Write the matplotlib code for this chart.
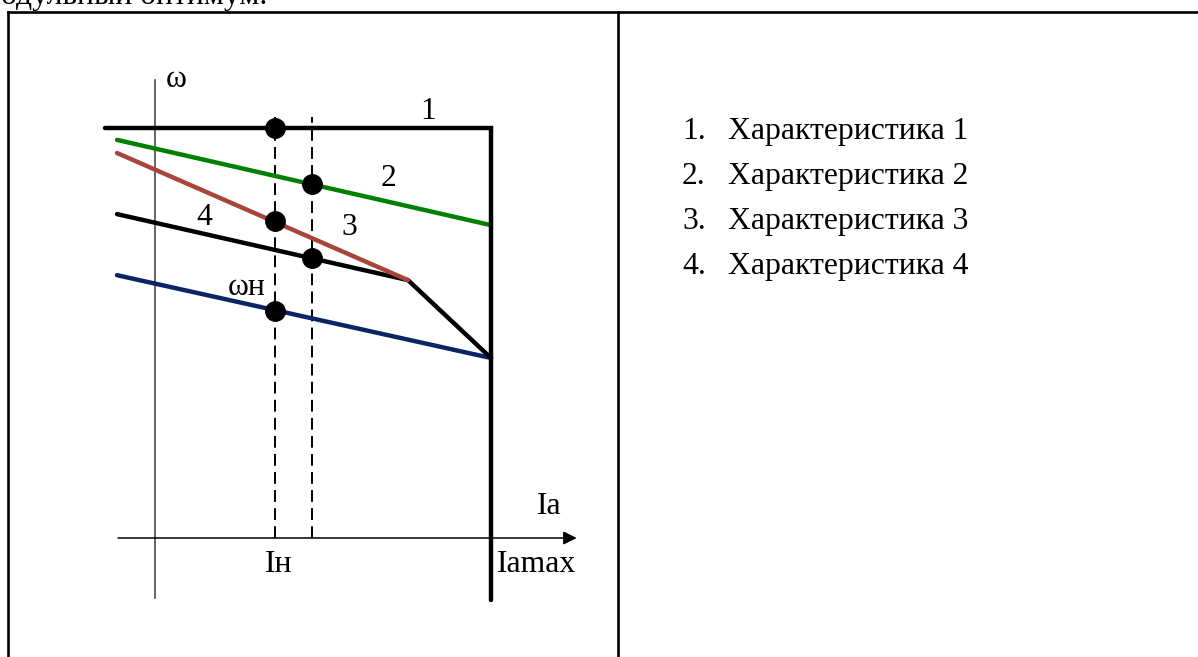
import matplotlib
matplotlib.use("Agg")
import matplotlib.pyplot as plt

plt.rcParams['font.family'] = ['Liberation Serif', 'DejaVu Serif']
plt.rcParams['lines.scale_dashes'] = False

# ---- data (relative units: I / Iamax, omega / omega0) ----
I_start = -0.113
I_break = 0.753
I_n = 0.357
I_2 = 0.467
I_max = 1.0

char1_I = [-0.149, 1.0, 1.0]
char1_w = [1.0, 1.0, -0.151]
char2_I = [I_start, I_max]
char2_w = [0.971, 0.763]
char4_I = [I_start, I_break]
char4_w = [0.939, 0.629]
char3_I = [I_start, I_break, I_max]
char3_w = [0.790, 0.629, 0.439]
blue_I = [I_start, I_max]
blue_w = [0.641, 0.439]

dots_I = [I_n, I_2, I_n, I_2, I_n]
dots_w = [1.0, 0.863, 0.772, 0.683, 0.553]

dash_I = [I_n, I_2]
dash_top = 1.027

list_items = ["Характеристика 1", "Характеристика 2", "Характеристика 3", "Характеристика 4"]

# ---- figure ----
W, H = 1198, 657
fig = plt.figure(figsize=(W / 100, H / 100), dpi=100)

# background / table layer in pixel coordinates
bg = fig.add_axes([0, 0, 1, 1])
bg.set_xlim(0, W)
bg.set_ylim(H, 0)
bg.axis('off')

blw = 1.9
bg.plot([8, W + 5], [12, 12], color='black', lw=blw, solid_capstyle='projecting')
bg.plot([8, 8], [12, H + 5], color='black', lw=blw, solid_capstyle='projecting')
bg.plot([618, 618], [12, H + 5], color='black', lw=blw, solid_capstyle='projecting')

fs = 22.8
bg.text(267, 4, "модульный оптимум.", fontsize=fs, ha='right', va='baseline')

baselines = [139, 184, 229, 274]
for i, (item, yb) in enumerate(zip(list_items, baselines)):
    bg.text(682, yb, f"{i + 1}.", fontsize=fs, ha='left', va='baseline')
    bg.text(728, yb, item, fontsize=fs, ha='left', va='baseline')

# diagram layer: map relative units to pixel positions
ox, oy = 155, 538
sx, sy = 336, 410
ax = fig.add_axes([0, 0, 1, 1])
ax.set_xlim((0 - ox) / sx, (W - ox) / sx)
ax.set_ylim((oy - H) / sy, (oy - 0) / sy)
ax.axis('off')
ax.patch.set_alpha(0)

# axes
ax.plot([0, 0], [-0.146, 1.117], color='#3a3a3a', lw=1.1)
ax.annotate('', xy=(1.255, 0), xytext=(-0.110, 0),
            arrowprops=dict(arrowstyle='-|>', lw=1.1, color='black',
                            mutation_scale=20, shrinkA=0, shrinkB=0))

# dashed guide lines
for xi in dash_I:
    ax.plot([xi, xi], [0, dash_top], color='black', lw=1.4, dashes=(8.5, 4.5))

thick = 3.2
ax.plot(blue_I, blue_w, color='#0b2466', lw=thick, solid_capstyle='round')
ax.plot(char2_I, char2_w, color='#008000', lw=thick, solid_capstyle='round')
ax.plot(char3_I, char3_w, color='black', lw=thick, solid_capstyle='round', solid_joinstyle='round')
ax.plot(char4_I, char4_w, color='#a8443a', lw=thick, solid_capstyle='round')
ax.plot(char1_I, char1_w, color='black', lw=thick, solid_capstyle='round', solid_joinstyle='miter')

ax.plot(dots_I, dots_w, 'o', color='black', ms=14, zorder=5)

# labels (pixel layer)
bg.text(166, 87, "ω", fontsize=fs, ha='left', va='baseline')
bg.text(428, 119, "1", fontsize=fs, ha='center', va='baseline')
bg.text(388, 186, "2", fontsize=fs, ha='center', va='baseline')
bg.text(349, 235, "3", fontsize=fs, ha='center', va='baseline')
bg.text(204, 225, "4", fontsize=fs, ha='center', va='baseline')
bg.text(228, 295, "ωн", fontsize=fs, ha='left', va='baseline')
bg.text(537, 514, "Ia", fontsize=fs, ha='left', va='baseline')
bg.text(265, 572, "Iн", fontsize=fs, ha='left', va='baseline')
bg.text(497, 572, "Iamax", fontsize=fs, ha='left', va='baseline')

fig.savefig("out.png", dpi=100)
